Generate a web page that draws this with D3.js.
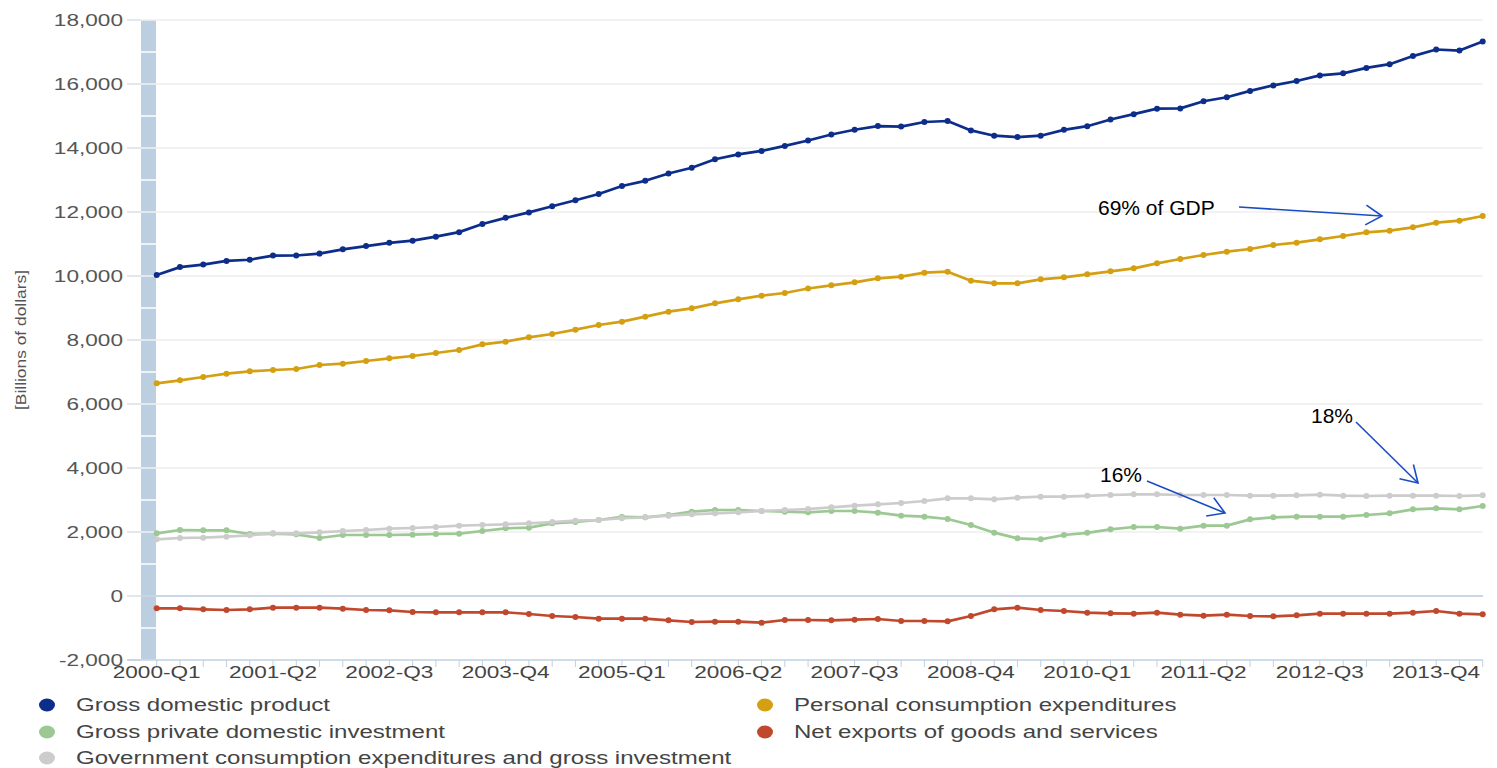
<!DOCTYPE html>
<html><head><meta charset="utf-8">
<script src="https://cdn.jsdelivr.net/npm/d3@7"></script>
<style>
html,body{margin:0;padding:0;background:#fff;}
svg{display:block;font-family:"Liberation Sans",Arial,sans-serif;}
</style></head>
<body><svg id="c" width="1497" height="768"></svg>
<script>
const categories = ["2000-Q1","2000-Q2","2000-Q3","2000-Q4","2001-Q1","2001-Q2","2001-Q3","2001-Q4",
"2002-Q1","2002-Q2","2002-Q3","2002-Q4","2003-Q1","2003-Q2","2003-Q3","2003-Q4",
"2004-Q1","2004-Q2","2004-Q3","2004-Q4","2005-Q1","2005-Q2","2005-Q3","2005-Q4",
"2006-Q1","2006-Q2","2006-Q3","2006-Q4","2007-Q1","2007-Q2","2007-Q3","2007-Q4",
"2008-Q1","2008-Q2","2008-Q3","2008-Q4","2009-Q1","2009-Q2","2009-Q3","2009-Q4",
"2010-Q1","2010-Q2","2010-Q3","2010-Q4","2011-Q1","2011-Q2","2011-Q3","2011-Q4",
"2012-Q1","2012-Q2","2012-Q3","2012-Q4","2013-Q1","2013-Q2","2013-Q3","2013-Q4",
"2014-Q1","2014-Q2"];
const tickLabels = ["2000-Q1","2001-Q2","2002-Q3","2003-Q4","2005-Q1","2006-Q2","2007-Q3","2008-Q4","2010-Q1","2011-Q2","2012-Q3","2013-Q4"];
const yTicks = [-2000,0,2000,4000,6000,8000,10000,12000,14000,16000,18000];

const gdp = [10031,10278,10357,10472,10508,10638,10640,10701,10834,10935,11037,11104,
11230,11371,11625,11817,11988,12181,12368,12562,12814,12974,13205,13382,
13649,13800,13909,14066,14233,14422,14570,14685,14668,14813,14843,14550,
14384,14340,14384,14567,14681,14889,15058,15230,15238,15461,15587,15785,
15957,16095,16269,16333,16502,16619,16872,17078,17044,17328];
const pce = [6646,6740,6844,6948,7021,7063,7094,7219,7260,7344,7427,7500,
7594,7688,7865,7948,8083,8188,8323,8469,8573,8729,8885,8990,
9146,9271,9385,9469,9610,9708,9802,9927,9979,10104,10135,9854,
9771,9771,9896,9958,10052,10146,10240,10396,10531,10656,10760,10844,
10969,11042,11146,11250,11365,11417,11521,11667,11729,11875];
const gpdi = [1958,2063,2052,2052,1938,1950,1927,1813,1906,1906,1906,1917,
1938,1948,2031,2115,2135,2271,2313,2375,2470,2458,2531,2635,
2688,2688,2656,2635,2615,2656,2656,2604,2510,2479,2406,2219,
1979,1802,1771,1906,1975,2083,2156,2156,2104,2198,2198,2396,
2458,2479,2479,2479,2531,2583,2708,2740,2708,2813];
const netExports = [-385,-385,-417,-437,-417,-365,-365,-365,-396,-437,-448,-500,
-510,-510,-510,-510,-563,-625,-656,-708,-708,-708,-760,-813,
-802,-802,-833,-750,-750,-760,-740,-719,-781,-781,-792,-625,
-417,-365,-437,-469,-521,-542,-552,-521,-583,-615,-583,-625,
-635,-604,-552,-552,-552,-552,-521,-469,-552,-573];
const gov = [1771,1813,1823,1854,1896,1958,1958,1990,2031,2063,2104,2125,
2156,2198,2219,2240,2271,2313,2354,2375,2430,2458,2510,2552,
2583,2615,2656,2688,2719,2771,2823,2865,2906,2969,3052,3052,
3021,3073,3104,3104,3130,3156,3177,3177,3156,3156,3156,3135,
3135,3146,3167,3135,3125,3135,3135,3135,3125,3146];

const seriesNames = ["Gross domestic product","Personal consumption expenditures","Gross private domestic investment","Net exports of goods and services","Government consumption expenditures and gross investment"];
const seriesColors = ["#0d2d8a","#d4a012","#9cc893","#c0482c","#cccccc"];
const seriesData = [gdp, pce, gpdi, netExports, gov];

const annotations = [
  {text:"69% of GDP", x:1098, y:215},
  {text:"16%", x:1100, y:482},
  {text:"18%", x:1311, y:423}
];

(function(){
const SX = 1.33;
const svg = d3.select("#c");
const pL = 141, pR = 1483, pT = 20, pB = 660;
const x = d3.scalePoint().domain(categories).range([156.7, 1482.7]);
const y = d3.scaleLinear().domain([-2000, 18000]).range([pB, pT]);
const fmt = d => d3.format(",")(d).replace("\u2212", "-");

// gridlines
svg.append("g").selectAll("line").data(yTicks.filter(d => d !== 0 && d !== -2000)).join("line")
  .attr("x1", pL).attr("x2", pR).attr("y1", d => y(d)).attr("y2", d => y(d))
  .attr("stroke", "#e6e6e6").attr("stroke-width", 1);

// y tick marks
svg.append("g").selectAll("line").data(yTicks).join("line")
  .attr("x1", 127).attr("x2", pL).attr("y1", d => y(d)).attr("y2", d => y(d))
  .attr("stroke", "#c0d0e0").attr("stroke-width", 1);

// zero line
svg.append("line").attr("x1", pL).attr("x2", pR).attr("y1", y(0)).attr("y2", y(0))
  .attr("stroke", "#b8c9dc").attr("stroke-width", 1.5);

// left band (segmented)
const bandVals = d3.range(-2000, 18000, 1000);
svg.append("g").selectAll("rect").data(bandVals).join("rect")
  .attr("x", pL).attr("width", 15)
  .attr("y", d => y(d + 1000) + 0.75)
  .attr("height", d => y(d) - y(d + 1000) - 1.5)
  .attr("fill", "#bccfe0");

// x axis
svg.append("line").attr("x1", 127).attr("x2", pR).attr("y1", pB).attr("y2", pB)
  .attr("stroke", "#c0d0e0").attr("stroke-width", 1.5);
svg.append("g").selectAll("line").data(categories).join("line")
  .attr("x1", d => x(d)).attr("x2", d => x(d)).attr("y1", pB).attr("y2", pB + 7)
  .attr("stroke", "#c0d0e0").attr("stroke-width", 1);

// y labels
svg.append("g").selectAll("text").data(yTicks).join("text")
  .attr("transform", d => `translate(123,${y(d) + 6}) scale(${SX},1)`)
  .attr("text-anchor", "end").attr("font-size", 17).attr("fill", "#555")
  .text(fmt);

// x labels
svg.append("g").selectAll("text").data(tickLabels).join("text")
  .attr("transform", d => `translate(${x(d)},678) scale(${SX},1)`)
  .attr("text-anchor", "middle").attr("font-size", 17).attr("fill", "#444")
  .text(d => d);

// y title
svg.append("text")
  .attr("transform", `translate(26,340) rotate(-90)`)
  .attr("text-anchor", "middle").attr("font-size", 14).attr("fill", "#555")
  .attr("textLength", 140).attr("lengthAdjust", "spacingAndGlyphs")
  .text("[Billions of dollars]");

// series
const line = d3.line().x((d, i) => x(categories[i])).y(d => y(d));
seriesData.forEach((data, k) => {
  const g = svg.append("g");
  g.append("path").attr("d", line(data)).attr("fill", "none")
    .attr("stroke", seriesColors[k]).attr("stroke-width", 2.7).attr("stroke-linejoin", "round");
  g.selectAll("circle").data(data).join("circle")
    .attr("cx", (d, i) => x(categories[i])).attr("cy", d => y(d)).attr("r", 3)
    .attr("fill", seriesColors[k]);
});

// legend
const legendPos = [[47,705],[765,705],[47,732],[765,732],[47,758]];
seriesNames.forEach((name, k) => {
  const [cx, cy] = legendPos[k];
  svg.append("ellipse").attr("cx", cx).attr("cy", cy).attr("rx", 8).attr("ry", 6.5)
    .attr("fill", seriesColors[k]);
  svg.append("text").attr("transform", `translate(${cx + 29},${cy + 5.5}) scale(${SX},1)`)
    .attr("font-size", 18.1).attr("fill", "#444").text(name);
});

// annotations
annotations.forEach(a => {
  svg.append("text").attr("x", a.x).attr("y", a.y).attr("font-size", 21)
    .attr("fill", "#000").text(a.text);
});
const arrows = [
  {x1:1239, y1:207, x2:1382, y2:216},
  {x1:1147, y1:481, x2:1225, y2:513},
  {x1:1356, y1:422, x2:1418, y2:483}
];
arrows.forEach(a => {
  const ang = Math.atan2(a.y2 - a.y1, a.x2 - a.x1);
  const L = 19, sp = 0.55;
  const p1 = [a.x2 - L * Math.cos(ang - sp), a.y2 - L * Math.sin(ang - sp)];
  const p2 = [a.x2 - L * Math.cos(ang + sp), a.y2 - L * Math.sin(ang + sp)];
  svg.append("line").attr("x1", a.x1).attr("y1", a.y1).attr("x2", a.x2).attr("y2", a.y2)
    .attr("stroke", "#1a4cc4").attr("stroke-width", 1.6);
  svg.append("path").attr("d", `M${p1[0]},${p1[1]} L${a.x2},${a.y2} L${p2[0]},${p2[1]}`)
    .attr("fill", "none").attr("stroke", "#1a4cc4").attr("stroke-width", 1.6);
});
})();
</script></body></html>
